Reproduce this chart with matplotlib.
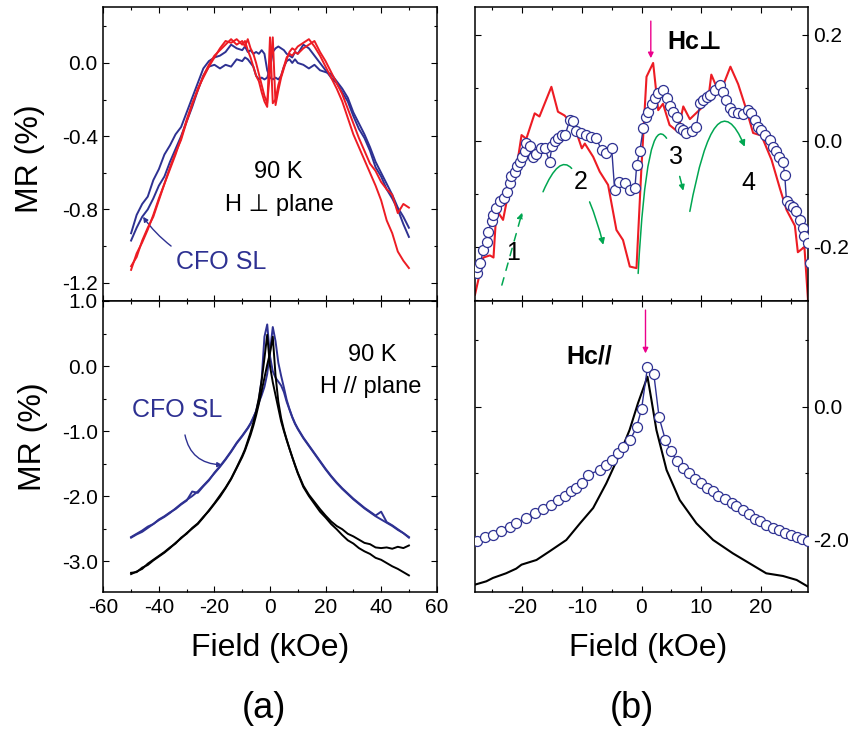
import matplotlib
matplotlib.use("Agg")
import matplotlib.pyplot as plt
from matplotlib.ticker import MultipleLocator, FormatStrFormatter
from matplotlib.patches import FancyArrowPatch
from matplotlib.path import Path

plt.rcParams['font.family'] = ['Liberation Sans', 'DejaVu Sans']
plt.rcParams['axes.unicode_minus'] = False

# colours
BLUE = '#2e3192'
RED = '#ed1c24'
GREEN = '#00a651'
MAGENTA = '#ec008c'

# ---------------- data (a) ----------------
field_a = [-50, -48, -46, -44, -42, -40, -38, -36, -34, -32, -30, -28, -26, -24, -22, -20, -18, -16, -14, -12,
           -10, -9, -8, -7, -6, -5, -4, -3, -2, -1, 0, 1, 2, 3, 4, 5, 6, 7, 8, 9, 10,
           12, 14, 16, 18, 20, 22, 24, 26, 28, 30, 32, 34, 36, 38, 40, 42, 44, 46, 48, 50]

# H perpendicular, CFO SL (blue) and reference (red)
blue_perp_1 = [-0.93, -0.83, -0.77, -0.73, -0.64, -0.58, -0.50, -0.45, -0.39, -0.35, -0.27, -0.19, -0.11, -0.03, 0.01, 0.03, 0.04, 0.06, 0.10, 0.08,
               0.07, 0.09, 0.06, 0.07, 0.05, 0.06, 0.05, 0.07, 0.05, -0.04, -0.08, -0.09, -0.08, -0.09, -0.07, -0.02, 0.01, 0.02, 0.00, 0.02, 0.00,
               -0.01, -0.03, -0.01, -0.04, -0.05, -0.06, -0.10, -0.14, -0.19, -0.27, -0.33, -0.39, -0.46, -0.54, -0.60, -0.66, -0.72, -0.79, -0.84, -0.90]
blue_perp_2 = [-0.97, -0.90, -0.84, -0.80, -0.74, -0.67, -0.62, -0.54, -0.47, -0.40, -0.32, -0.24, -0.15, -0.07, -0.02, -0.01, -0.03, -0.01, -0.02, 0.02,
               0.01, 0.03, 0.02, 0.00, -0.02, -0.07, -0.09, -0.08, -0.09, -0.08, -0.03, 0.06, 0.08, 0.09, 0.08, 0.07, 0.05, 0.04, 0.03, 0.06, 0.05,
               0.10, 0.08, 0.04, 0.00, -0.04, -0.08, -0.11, -0.16, -0.21, -0.29, -0.36, -0.41, -0.48, -0.57, -0.62, -0.69, -0.74, -0.80, -0.88, -0.95]
red_perp_1 = [-1.13, -1.04, -0.98, -0.91, -0.83, -0.74, -0.66, -0.57, -0.49, -0.42, -0.32, -0.23, -0.14, -0.08, -0.02, 0.03, 0.08, 0.12, 0.11, 0.13,
              0.10, 0.12, 0.07, 0.03, -0.02, -0.07, -0.10, -0.16, -0.21, -0.24, 0.14, -0.22, -0.20, -0.12, -0.07, -0.02, 0.03, 0.05, 0.04, 0.06, 0.05,
              0.08, 0.10, 0.12, 0.06, 0.01, -0.05, -0.11, -0.17, -0.25, -0.33, -0.41, -0.48, -0.55, -0.59, -0.65, -0.69, -0.72, -0.82, -0.77, -0.79]
red_perp_2 = [-1.11, -1.06, -0.97, -0.90, -0.84, -0.75, -0.66, -0.58, -0.50, -0.41, -0.31, -0.22, -0.15, -0.07, -0.01, 0.04, 0.07, 0.10, 0.13, 0.10,
              0.12, 0.09, 0.13, 0.08, 0.05, 0.00, -0.06, -0.12, -0.18, -0.22, -0.05, 0.14, -0.23, -0.15, -0.08, -0.03, 0.02, 0.06, 0.08, 0.07, 0.09,
              0.11, 0.13, 0.09, 0.04, -0.02, -0.08, -0.14, -0.21, -0.30, -0.39, -0.46, -0.53, -0.60, -0.67, -0.75, -0.86, -0.93, -1.03, -1.08, -1.12]

# H parallel, CFO SL (blue) and reference (black)
blue_par_1 = [-2.64, -2.59, -2.55, -2.49, -2.43, -2.37, -2.32, -2.26, -2.19, -2.12, -2.06, -2.00, -1.93, -1.84, -1.75, -1.65, -1.55, -1.44, -1.32, -1.19,
              -1.08, -1.02, -0.96, -0.89, -0.80, -0.69, -0.52, -0.20, 0.45, 0.64, 0.15, -0.08, -0.18, -0.24, -0.30, -0.40, -0.55, -0.67, -0.79, -0.89, -0.97,
              -1.11, -1.23, -1.35, -1.47, -1.59, -1.70, -1.80, -1.89, -1.97, -2.05, -2.12, -2.19, -2.25, -2.31, -2.36, -2.41, -2.46, -2.52, -2.57, -2.64]
blue_par_2 = [-2.63, -2.58, -2.53, -2.47, -2.43, -2.36, -2.31, -2.25, -2.20, -2.13, -2.07, -1.93, -1.95, -1.85, -1.76, -1.64, -1.54, -1.43, -1.31, -1.18,
              -1.07, -1.01, -0.95, -0.88, -0.79, -0.70, -0.56, -0.45, -0.32, -0.12, 0.22, 0.60, 0.38, 0.05, -0.15, -0.33, -0.52, -0.66, -0.78, -0.88, -0.96,
              -1.10, -1.22, -1.34, -1.46, -1.58, -1.69, -1.79, -1.88, -1.96, -2.04, -2.11, -2.18, -2.24, -2.30, -2.24, -2.40, -2.45, -2.51, -2.57, -2.63]
black_par_1 = [-3.18, -3.17, -3.10, -3.06, -2.99, -2.93, -2.87, -2.80, -2.72, -2.65, -2.57, -2.50, -2.43, -2.33, -2.22, -2.11, -1.99, -1.87, -1.73, -1.56,
               -1.38, -1.28, -1.15, -1.02, -0.87, -0.70, -0.49, -0.22, 0.12, 0.48, 0.00, -0.25, -0.45, -0.65, -0.85, -1.00, -1.14, -1.27, -1.40, -1.52, -1.64,
               -1.84, -1.98, -2.09, -2.20, -2.30, -2.39, -2.46, -2.51, -2.58, -2.62, -2.67, -2.72, -2.74, -2.79, -2.80, -2.79, -2.81, -2.78, -2.80, -2.76]
black_par_2 = [-3.20, -3.16, -3.12, -3.04, -2.98, -2.92, -2.86, -2.79, -2.73, -2.64, -2.58, -2.49, -2.42, -2.32, -2.23, -2.12, -2.01, -1.88, -1.74, -1.57,
               -1.40, -1.30, -1.18, -1.06, -0.92, -0.76, -0.58, -0.38, -0.18, 0.02, 0.20, 0.45, -0.15, -0.55, -0.80, -0.98, -1.13, -1.27, -1.40, -1.53, -1.65,
               -1.86, -2.00, -2.12, -2.24, -2.33, -2.43, -2.51, -2.60, -2.68, -2.73, -2.80, -2.85, -2.89, -2.95, -2.98, -3.03, -3.08, -3.12, -3.17, -3.22]

# ---------------- data (b) ----------------
# H perpendicular, zoom: reference (red line) and CFO SL (circles)
red_b_field = [-27.9, -26.5, -25.4, -24.8, -24.3, -23.2, -22.1, -21.2, -20.1, -19.3, -17.9, -17.1, -15.1, -14.0, -12.9, -11.2,
               -10.0, -9.5, -8.1, -7.0, -5.6, -4.2, -3.1, -1.96, -0.84, 0.0, 0.84, 1.95, 2.8, 3.6, 4.7, 6.1, 7.0, 8.1,
               10.05, 11.2, 11.7, 13.1, 14.9, 16.2, 17.6, 18.7, 20.1, 21.8, 23.2, 24.3, 25.7, 26.2, 27.3, 27.9]
red_b_mr = [-0.29, -0.22, -0.216, -0.22, -0.13, -0.149, -0.086, -0.07, 0.011, 0.004, 0.052, 0.046, 0.102, 0.055, 0.048, 0.026,
            -0.014, -0.005, -0.03, -0.058, -0.083, -0.168, -0.187, -0.237, -0.24, -0.048, 0.121, 0.147, 0.058, 0.07, 0.03, 0.017, 0.065, 0.041,
            0.062, 0.08, 0.125, 0.088, 0.14, 0.107, 0.058, 0.015, 0.01, -0.036, -0.09, -0.13, -0.16, -0.21, -0.2, -0.3]

circ_b_field = [-27.6, -27.6, -27.0, -26.5, -25.9, -25.7, -25.1, -24.8, -24.3, -23.7, -23.1, -22.6, -22.1, -21.8, -21.2, -20.9,
                -20.4, -20.1, -19.5, -19.3, -18.7, -18.2, -17.6, -16.8, -16.2, -15.4, -15.0, -14.5, -14.0, -13.4, -12.8, -12.0,
                -11.5, -10.9, -10.1, -9.3, -8.4, -7.6, -6.7, -5.9, -5.0, -4.5, -3.7, -2.8, -2.0, -1.1, -0.8, -0.3,
                0.3, 0.8, 1.1, 1.7, 2.3, 2.8, 3.6, 4.2, 4.8, 5.3, 5.9, 6.4, 7.0, 7.5, 8.4, 9.2,
                9.8, 10.3, 10.9, 11.4, 12.3, 13.1, 13.7, 14.2, 14.8, 15.3, 16.2, 17.0, 17.9, 18.4, 19.0, 19.5,
                20.1, 20.7, 21.5, 22.0, 22.6, 23.1, 23.7, 24.0, 24.3, 24.8, 25.4, 25.9, 26.5, 27.0, 27.3, 27.9, 28.2]
circ_b_mr = [-0.25, -0.237, -0.23, -0.206, -0.19, -0.171, -0.152, -0.14, -0.127, -0.114, -0.108, -0.096, -0.08, -0.067, -0.058, -0.048,
             -0.039, -0.03, -0.02, -0.004, -0.01, -0.03, -0.024, -0.014, -0.014, -0.039, -0.01, -0.001, 0.005, 0.011, 0.011, 0.04,
             0.037, 0.018, 0.015, 0.011, 0.008, 0.005, -0.017, -0.023, -0.014, -0.092, -0.077, -0.08, -0.092, -0.089, -0.045, -0.02,
             0.024, 0.045, 0.055, 0.07, 0.08, 0.09, 0.096, 0.08, 0.065, 0.055, 0.046, 0.024, 0.02, 0.015, 0.018, 0.027,
             0.071, 0.077, 0.083, 0.087, 0.096, 0.106, 0.093, 0.077, 0.062, 0.055, 0.052, 0.05, 0.058, 0.052, 0.04, 0.027,
             0.021, 0.011, 0.002, -0.011, -0.02, -0.03, -0.039, -0.064, -0.114, -0.121, -0.124, -0.133, -0.149, -0.165, -0.18, -0.193, -0.23]

# H parallel, zoom: reference (black line) and CFO SL (circles)
black_b_field = [-27.9, -26.0, -24.9, -22.7, -21.0, -20.1, -17.6, -15.4, -12.6, -10.3, -8.1, -5.9, -3.6, -2.0, -0.6, 1.0,
                 1.67, 2.5, 4.2, 6.4, 9.2, 12.0, 15.3, 18.1, 20.9, 23.7, 26.0, 27.9]
black_b_mr = [-2.67, -2.62, -2.57, -2.50, -2.43, -2.37, -2.30, -2.17, -2.00, -1.75, -1.52, -1.15, -0.70, -0.35, 0.05, 0.45,
              0.10, -0.35, -0.95, -1.40, -1.75, -2.00, -2.20, -2.35, -2.50, -2.54, -2.60, -2.70]

circ_b2_field = [-27.6, -26.3, -24.9, -23.5, -22.1, -21.0, -19.3, -17.9, -16.5, -15.1, -14.0, -12.8, -11.8, -10.9, -9.9, -8.9,
                 -7.0, -6.0, -5.0, -4.0, -3.1, -1.9, -0.8, 0.0, 1.0, 2.06, 2.95, 4.0, 4.9, 6.0, 6.9, 8.0,
                 8.9, 9.9, 10.9, 12.0, 12.8, 14.0, 15.1, 15.9, 17.0, 18.0, 19.0, 19.9, 20.9, 22.0, 23.0, 24.0,
                 25.0, 26.0, 26.9, 27.9]
circ_b2_mr = [-2.01, -1.95, -1.92, -1.87, -1.81, -1.75, -1.67, -1.60, -1.54, -1.47, -1.40, -1.34, -1.27, -1.22, -1.15, -1.02,
              -0.95, -0.88, -0.80, -0.70, -0.60, -0.50, -0.30, -0.04, 0.59, 0.49, -0.16, -0.50, -0.67, -0.82, -0.92, -1.00,
              -1.09, -1.15, -1.22, -1.27, -1.34, -1.39, -1.44, -1.49, -1.55, -1.61, -1.68, -1.72, -1.77, -1.82, -1.85, -1.90,
              -1.92, -1.96, -1.99, -2.01]


def curve(ax, p0, p1, p2, color, head=True, ls='-', lw=1.1, ms=9):
    path = Path([p0, p1, p2], [Path.MOVETO, Path.CURVE3, Path.CURVE3])
    arr = FancyArrowPatch(path=path, arrowstyle='-|>' if head else '-', mutation_scale=ms,
                          color=color, lw=lw, linestyle=ls)
    ax.add_patch(arr)


def style(ax, right=False):
    ax.tick_params(which='both', direction='in', top=True, right=True, bottom=True, left=True,
                   labelsize=15, width=0.8)
    ax.tick_params(which='major', length=4, pad=4)
    ax.tick_params(which='minor', length=2.5)
    if right:
        ax.tick_params(labelleft=False, labelright=True)
    for s in ax.spines.values():
        s.set_linewidth(1.1)


fig = plt.figure(figsize=(8.51, 7.29), dpi=100)
W, H = 851.0, 729.0
ax_tl = fig.add_axes([103.3 / W, 1 - 301 / H, 333.4 / W, 293.7 / H])
ax_bl = fig.add_axes([103.3 / W, 1 - 592.3 / H, 333.4 / W, 291.3 / H])
ax_tr = fig.add_axes([475 / W, 1 - 301 / H, 333 / W, 293.7 / H])
ax_br = fig.add_axes([475 / W, 1 - 592.3 / H, 333 / W, 291.3 / H])

# ---- (a) top ----
ax = ax_tl
ax.plot(field_a, blue_perp_1, color=BLUE, lw=1.4)
ax.plot(field_a, blue_perp_2, color=BLUE, lw=1.4)
ax.plot(field_a, red_perp_1, color=RED, lw=1.4)
ax.plot(field_a, red_perp_2, color=RED, lw=1.4)
ax.set_xlim(-60, 60)
ax.set_ylim(-1.3, 0.304)
ax.xaxis.set_major_locator(MultipleLocator(20))
ax.xaxis.set_minor_locator(MultipleLocator(10))
ax.yaxis.set_major_locator(MultipleLocator(0.4))
ax.yaxis.set_minor_locator(MultipleLocator(0.2))
ax.yaxis.set_major_formatter(FormatStrFormatter('%.1f'))
style(ax)
ax.tick_params(labelbottom=False)
ax.text(2.9, -0.595, '90 K', fontsize=17, ha='center', va='center')
ax.text(3.2, -0.775, 'H \u22a5 plane', fontsize=17, ha='center', va='center')
ax.text(-17.6, -1.086, 'CFO SL', fontsize=18, color=BLUE, ha='center', va='center')
curve(ax, (-35.6, -1.0), (-41.5, -0.93), (-45.7, -0.84), BLUE, lw=1.0, ms=7)

# ---- (a) bottom ----
ax = ax_bl
ax.plot(field_a, blue_par_1, color=BLUE, lw=1.4)
ax.plot(field_a, blue_par_2, color=BLUE, lw=1.4)
ax.plot(field_a, black_par_1, color='black', lw=1.4)
ax.plot(field_a, black_par_2, color='black', lw=1.4)
ax.set_xlim(-60, 60)
ax.set_ylim(-3.48, 1.0)
ax.xaxis.set_major_locator(MultipleLocator(20))
ax.xaxis.set_minor_locator(MultipleLocator(10))
ax.yaxis.set_major_locator(MultipleLocator(1.0))
ax.yaxis.set_minor_locator(MultipleLocator(0.5))
ax.yaxis.set_major_formatter(FormatStrFormatter('%.1f'))
style(ax)
ax.text(36.7, 0.17, '90 K', fontsize=17, ha='center', va='center')
ax.text(36.4, -0.32, 'H // plane', fontsize=17, ha='center', va='center')
ax.text(-33.5, -0.68, 'CFO SL', fontsize=18, color=BLUE, ha='center', va='center')
curve(ax, (-30.6, -1.06), (-28.5, -1.5), (-17.2, -1.52), BLUE, lw=1.0, ms=7)

# ---- (b) top ----
ax = ax_tr
ax.plot(red_b_field, red_b_mr, color=RED, lw=1.5, zorder=2)
ax.plot(circ_b_field, circ_b_mr, color=BLUE, lw=1.0, marker='o', ms=7.2, mfc='white',
        mec=BLUE, mew=0.9, zorder=3)
ax.set_xlim(-27.9, 27.9)
ax.set_ylim(-0.302, 0.252)
ax.xaxis.set_major_locator(MultipleLocator(10))
ax.xaxis.set_minor_locator(MultipleLocator(5))
ax.yaxis.set_major_locator(MultipleLocator(0.2))
ax.yaxis.set_minor_locator(MultipleLocator(0.1))
ax.yaxis.set_major_formatter(FormatStrFormatter('%.1f'))
style(ax, right=True)
ax.tick_params(labelbottom=False)
ax.text(8.9, 0.187, 'Hc\u22a5', fontsize=18, fontweight='bold', ha='center', va='center')
ax.text(-21.5, -0.212, '1', fontsize=18, ha='center', va='center')
ax.text(-10.2, -0.077, '2', fontsize=18, ha='center', va='center')
ax.text(5.75, -0.03, '3', fontsize=18, ha='center', va='center')
ax.text(17.9, -0.08, '4', fontsize=18, ha='center', va='center')
curve(ax, (-23.4, -0.272), (-21.7, -0.2035), (-20.0, -0.135), GREEN, ls=(0, (5, 5)))
curve(ax, (-16.5, -0.096), (-13.8, -0.025), (-11.7, -0.052), GREEN, head=False)
curve(ax, (-8.7, -0.115), (-7.4, -0.15), (-6.4, -0.196), GREEN)
curve(ax, (-0.56, -0.25), (0.9, 0.06), (4.2, 0.005), GREEN, head=False)
curve(ax, (6.4, -0.067), (6.7, -0.08), (7.0, -0.094), GREEN, ms=8)
curve(ax, (8.1, -0.133), (12.3, 0.125), (17.3, -0.011), GREEN)
ax.annotate('', xy=(1.56, 0.156), xytext=(1.56, 0.226),
            arrowprops=dict(arrowstyle='-|>', color=MAGENTA, lw=1.0, mutation_scale=8,
                            shrinkA=0, shrinkB=0))

# ---- (b) bottom ----
ax = ax_br
ax.plot(black_b_field, black_b_mr, color='black', lw=1.5, zorder=2)
ax.plot(circ_b2_field, circ_b2_mr, color=BLUE, lw=1.0, marker='o', ms=7.2, mfc='white',
        mec=BLUE, mew=0.9, zorder=3)
ax.set_xlim(-27.9, 27.9)
ax.set_ylim(-2.785, 1.586)
ax.xaxis.set_major_locator(MultipleLocator(10))
ax.xaxis.set_minor_locator(MultipleLocator(5))
ax.yaxis.set_major_locator(MultipleLocator(2.0))
ax.yaxis.set_minor_locator(MultipleLocator(1.0))
ax.yaxis.set_major_formatter(FormatStrFormatter('%.1f'))
style(ax, right=True)
ax.text(-8.8, 0.76, 'Hc//', fontsize=18, fontweight='bold', ha='center', va='center')
ax.annotate('', xy=(0.67, 0.8), xytext=(0.67, 1.45),
            arrowprops=dict(arrowstyle='-|>', color=MAGENTA, lw=1.0, mutation_scale=8,
                            shrinkA=0, shrinkB=0))

# axis labels and panel tags
fig.text(30 / W, 1 - 159 / H, 'MR (%)', fontsize=23, rotation=90, ha='center', va='center')
fig.text(33 / W, 1 - 437 / H, 'MR (%)', fontsize=23, rotation=90, ha='center', va='center')
fig.text(270 / W, 1 - 648 / H, 'Field (kOe)', fontsize=23, ha='center', va='center')
fig.text(648 / W, 1 - 648 / H, 'Field (kOe)', fontsize=23, ha='center', va='center')
fig.text(264 / W, 1 - 709 / H, '(a)', fontsize=26, ha='center', va='center')
fig.text(632 / W, 1 - 709 / H, '(b)', fontsize=26, ha='center', va='center')

fig.savefig('out.png', dpi=100)
